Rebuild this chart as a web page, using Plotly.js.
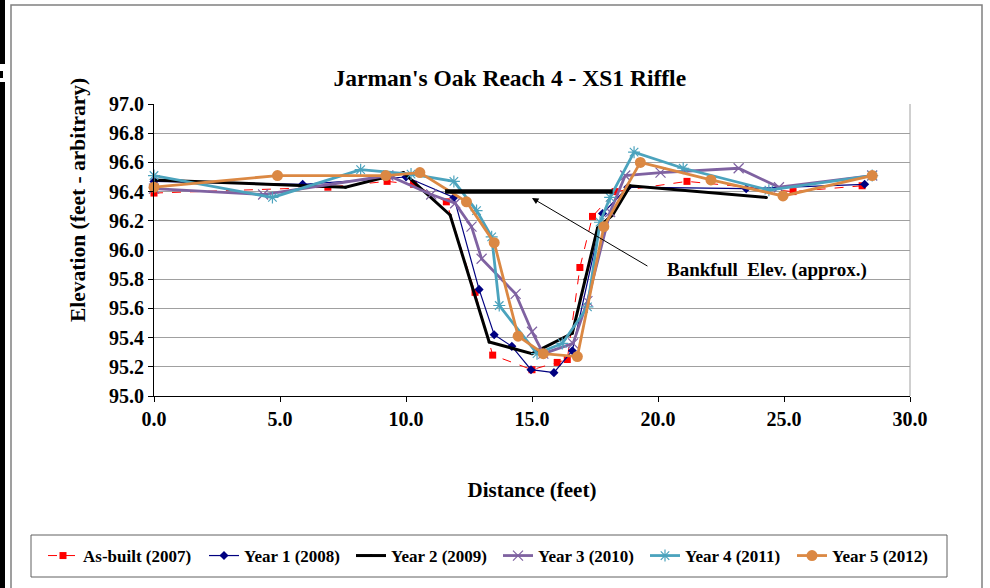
<!DOCTYPE html>
<html>
<head>
<meta charset="utf-8">
<script src="https://cdn.plot.ly/plotly-3.0.1.min.js"></script>
<style>html,body{margin:0;padding:0;background:#fff;}#chart{width:990px;height:588px;}</style>
</head>
<body>
<div id="chart"></div>
<script>
const seriesNames = ["As-built (2007)", "Year 1 (2008)", "Year 2 (2009)", "Year 3 (2010)", "Year 4 (2011)", "Year 5 (2012)"];

const asBuiltX = [0.0, 6.9, 9.25, 10.3, 11.6, 12.74, 13.44, 15.0, 16.0, 16.4, 16.9, 17.4, 18.3, 21.15, 25.36, 28.1];
const asBuiltY = [96.39, 96.43, 96.47, 96.45, 96.33, 95.71, 95.28, 95.18, 95.23, 95.25, 95.88, 96.23, 96.40, 96.47, 96.40, 96.44];

const year1X = [0.0, 5.9, 10.0, 11.9, 12.9, 13.5, 14.2, 14.96, 15.87, 16.6, 17.8, 18.8, 23.5, 28.2];
const year1Y = [96.47, 96.45, 96.50, 96.36, 95.73, 95.42, 95.34, 95.18, 95.16, 95.31, 96.25, 96.43, 96.42, 96.45];

const year2X = [0.0, 7.6, 9.9, 11.75, 13.3, 15.0, 16.6, 17.1, 17.6, 18.2, 18.9, 24.3];
const year2Y = [96.48, 96.43, 96.53, 96.24, 95.37, 95.29, 95.43, 95.80, 96.15, 96.24, 96.44, 96.36];

const year3X = [0.0, 4.33, 9.3, 11.0, 11.95, 12.6, 13.0, 14.35, 15.0, 15.45, 16.63, 17.2, 18.1, 18.7, 20.1, 23.2, 24.8, 28.5];
const year3Y = [96.42, 96.38, 96.51, 96.38, 96.32, 96.16, 95.94, 95.70, 95.44, 95.29, 95.36, 95.65, 96.26, 96.51, 96.53, 96.56, 96.43, 96.51];

const year4X = [0.0, 4.7, 8.2, 10.2, 11.9, 12.8, 13.4, 13.7, 15.2, 16.2, 17.2, 17.7, 18.1, 19.05, 21.0, 24.4, 28.5];
const year4Y = [96.51, 96.36, 96.55, 96.52, 96.47, 96.27, 96.09, 95.62, 95.29, 95.36, 95.61, 96.19, 96.36, 96.67, 96.56, 96.41, 96.51];

const year5X = [0.0, 4.9, 9.2, 10.55, 12.4, 13.5, 14.45, 15.45, 16.8, 17.85, 19.3, 22.1, 24.96, 28.5];
const year5Y = [96.43, 96.51, 96.51, 96.53, 96.33, 96.05, 95.41, 95.29, 95.27, 96.16, 96.60, 96.48, 96.37, 96.51];

const bankfullX = [11.55, 18.2];
const bankfullY = [96.40, 96.40];

const xTickVals = [0, 5, 10, 15, 20, 25, 30];
const xTickText = ["0.0", "5.0", "10.0", "15.0", "20.0", "25.0", "30.0"];
const yTickVals = [95.0, 95.2, 95.4, 95.6, 95.8, 96.0, 96.2, 96.4, 96.6, 96.8, 97.0];
const yTickText = ["95.0", "95.2", "95.4", "95.6", "95.8", "96.0", "96.2", "96.4", "96.6", "96.8", "97.0"];

const FONT = "Liberation Serif, Times New Roman, serif";
const LEGFONT = {family: FONT, size: 17, color: "#000", weight: "bold"};

const traces = [
  {x: asBuiltX, y: asBuiltY, name: seriesNames[0], mode: "lines+markers", cliponaxis: false, legend: "legend",
   line: {color: "#FF0000", width: 1, dash: "dash"}, marker: {symbol: "square", size: 7, color: "#FF0000"}},
  {x: year1X, y: year1Y, name: seriesNames[1], mode: "lines+markers", cliponaxis: false, legend: "legend2",
   line: {color: "#000080", width: 1.2}, marker: {symbol: "diamond", size: 7, color: "#000080"}},
  {x: year2X, y: year2Y, name: seriesNames[2], mode: "lines+markers", cliponaxis: false, legend: "legend2",
   line: {color: "#000000", width: 3}, marker: {symbol: "circle", size: 3, color: "#000000"}},
  {x: year3X, y: year3Y, name: seriesNames[3], mode: "lines+markers", cliponaxis: false, legend: "legend2",
   line: {color: "#7F62A1", width: 2.8}, marker: {symbol: "x-thin", size: 10, line: {color: "#7F62A1", width: 1.2}}},
  {x: year4X, y: year4Y, name: seriesNames[4], mode: "lines+markers", cliponaxis: false, legend: "legend2",
   line: {color: "#4BA3BD", width: 2.8}, marker: {symbol: "asterisk", size: 10, line: {color: "#4BA3BD", width: 1.2}}},
  {x: year5X, y: year5Y, name: seriesNames[5], mode: "lines+markers", cliponaxis: false, legend: "legend2",
   line: {color: "#DB8843", width: 2.8}, marker: {symbol: "circle", size: 11, color: "#DB8843"}},
  {x: bankfullX, y: bankfullY, name: "Bankfull", mode: "lines", showlegend: false,
   line: {color: "#000000", width: 4.5}}
];

const layout = {
  width: 990, height: 588,
  paper_bgcolor: "#ffffff", plot_bgcolor: "#ffffff",
  margin: {l: 154, r: 80, t: 104, b: 192},
  font: {family: FONT, color: "#000000"},
  title: {text: "<b>Jarman's Oak Reach 4 - XS1 Riffle</b>", font: {family: FONT, size: 23.5, color: "#000"},
          x: 0.515, xanchor: "center", yref: "container", y: 1 - 78/588, yanchor: "middle"},
  xaxis: {range: [0, 30], tickvals: xTickVals, ticktext: xTickText, showgrid: false, zeroline: false,
          showline: true, linecolor: "#000", linewidth: 1, ticks: "outside", ticklen: 5, tickcolor: "#000",
          tickfont: {family: FONT, size: 20, color: "#000", weight: "bold"},
          title: {text: "<b>Distance (feet)</b>", font: {family: FONT, size: 21, color: "#000"}, standoff: 53}},
  yaxis: {range: [95, 97], tickvals: yTickVals, ticktext: yTickText, showgrid: true, gridcolor: "#A0A0A0", gridwidth: 1,
          zeroline: false, showline: true, linecolor: "#000", linewidth: 1, ticks: "outside", ticklen: 5, tickcolor: "#000",
          tickfont: {family: FONT, size: 20, color: "#000", weight: "bold"}},
  showlegend: true,
  legend: {orientation: "h", xref: "container", x: 43/990, xanchor: "left", yref: "container", y: 1 - 556/588, yanchor: "middle",
           borderwidth: 0, bgcolor: "rgba(0,0,0,0)", font: LEGFONT, entrywidth: 0},
  legend2: {orientation: "h", xref: "container", x: 204/990, xanchor: "left", yref: "container", y: 1 - 556/588, yanchor: "middle",
           borderwidth: 0, bgcolor: "rgba(0,0,0,0)", font: LEGFONT, entrywidth: 102, tracegroupgap: 0},
  shapes: [
    {type: "line", xref: "paper", yref: "paper", x0: 1, x1: 1, y0: 0, y1: 1, line: {color: "#A0A0A0", width: 1}},
    {type: "rect", xref: "paper", yref: "paper", x0: (11-154)/756, x1: (982-154)/756, y0: (396-600)/292, y1: (396-5)/292,
     line: {color: "#808080", width: 1.5}},
    {type: "rect", xref: "paper", yref: "paper", x0: (31-154)/756, x1: (947-154)/756, y0: (396-577)/292, y1: (396-535)/292,
     line: {color: "#606060", width: 1}},
    {type: "rect", xref: "paper", yref: "paper", x0: (0-154)/756, x1: (5-154)/756, y0: (396-64)/292, y1: (396+5)/292,
     line: {width: 0}, fillcolor: "#000"},
    {type: "rect", xref: "paper", yref: "paper", x0: (0-154)/756, x1: (3-154)/756, y0: (396-78)/292, y1: (396-71)/292,
     line: {width: 0}, fillcolor: "#000"},
    {type: "rect", xref: "paper", yref: "paper", x0: (0-154)/756, x1: (5-154)/756, y0: (396-600)/292, y1: (396-82)/292,
     line: {width: 0}, fillcolor: "#000"}
  ],
  annotations: [
    {x: (78-154)/756, y: (396-200)/292, xref: "paper", yref: "paper", textangle: -90, showarrow: false,
     xanchor: "center", yanchor: "middle", text: "<b>Elevation (feet - arbitrary)</b>",
     font: {family: FONT, size: 21.5, color: "#000"}},
    {x: 15.0, y: 96.356, ax: 19.64, ay: 95.884, axref: "x", ayref: "y", xref: "x", yref: "y",
     text: "", showarrow: true, arrowhead: 2, arrowsize: 1.3, arrowwidth: 1, arrowcolor: "#000"},
    {x: 24.33, y: 95.863, xref: "x", yref: "y", text: "<b>Bankfull  Elev. (approx.)</b>", showarrow: false,
     font: {family: FONT, size: 19, color: "#000"}}
  ]
};

Plotly.newPlot("chart", traces, layout, {displayModeBar: false, staticPlot: true});
</script>
</body>
</html>
